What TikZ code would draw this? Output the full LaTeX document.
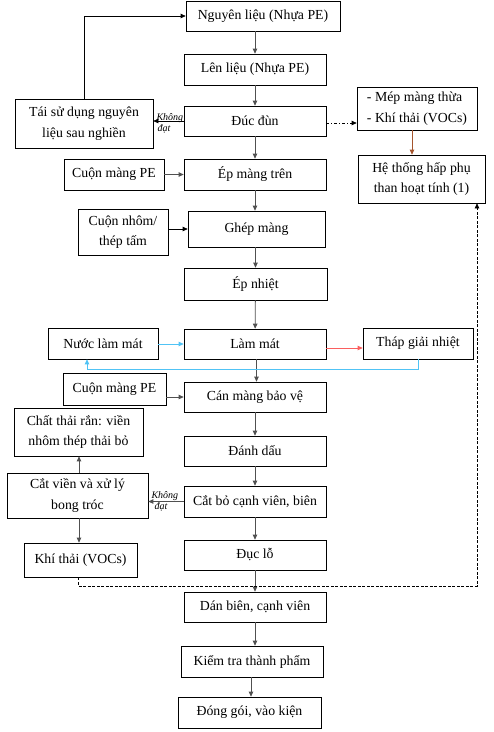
\documentclass[tikz,border=0pt]{standalone}
\usepackage{fontspec}
\setmainfont{Liberation Serif}
\usetikzlibrary{arrows.meta}
\definecolor{arrgray}{RGB}{80,80,80}
\definecolor{coolblue}{RGB}{80,195,245}
\definecolor{hotred}{RGB}{250,95,95}
\definecolor{brownline}{RGB}{165,85,45}
\tikzset{
  box/.style={draw, line width=0.7pt, align=center, inner sep=1pt,
    font=\fontsize{13.8}{20.5}\selectfont},
  arr/.style={-{Triangle[length=5pt,width=4.5pt]}, arrgray, line width=0.8pt},
  blk/.style={-{Triangle[length=5pt,width=4.5pt]}, black, line width=0.7pt},
  retarr/.style={-{Triangle[length=5pt,width=4.5pt]}, black, line width=0.7pt,
    dash pattern=on 3pt off 1.5pt},
  lbl/.style={font=\fontsize{10}{11}\selectfont\itshape, inner sep=1pt},
}

\begin{document}
\begin{tikzpicture}[x=1pt, y=-1pt]
    \useasboundingbox (0,0) rectangle (494,732);

    \node[box, minimum width=154pt, minimum height=30pt] (nguyen) at (263,16) {Nguyên liệu (Nhựa PE)};
    \node[box, minimum width=142pt, minimum height=31pt] (lenlieu) at (255,69.5) {Lên liệu (Nhựa PE)};
    \node[box, minimum width=142pt, minimum height=30pt] (ducdun) at (255,121) {Đúc đùn};
    \node[box, minimum width=138pt, minimum height=49pt] (taisudung) at (84,123.5) {Tái sử dụng nguyên\\liệu sau nghiền};
    \node[box, align=left, minimum width=120pt, minimum height=43pt] (mep) at (417,108.5) {- Mép màng thừa\\- Khí thải (VOCs)};
    \node[box, minimum width=127pt, minimum height=48pt] (hethong) at (421.5,179) {Hệ thống hấp phụ\\than hoạt tính (1)};

    \node[box, minimum width=100pt, minimum height=31pt] (cuonpe) at (114,174.5) {Cuộn màng PE};
    \node[box, minimum width=142pt, minimum height=31pt] (epmang) at (255,174.5) {Ép màng trên};
    \node[box, minimum width=90pt, minimum height=46pt] (cuonnhom) at (123,232) {Cuộn nhôm/\\thép tấm};
    \node[box, minimum width=137pt, minimum height=36pt] (ghep) at (256.5,229) {Ghép màng};
    \node[box, minimum width=143pt, minimum height=32pt] (epnhiet) at (255.5,284) {Ép nhiệt};

    \node[box, minimum width=110pt, minimum height=31pt] (nuoc) at (103,343.5) {Nước làm mát};
    \node[box, minimum width=142pt, minimum height=30pt] (lammat) at (255,344) {Làm mát};
    \node[box, minimum width=110pt, minimum height=31pt] (thap) at (418,343.5) {Tháp giải nhiệt};

    \node[box, minimum width=103pt, minimum height=32pt] (cuonpeb) at (114.5,389) {Cuộn màng PE};
    \node[box, minimum width=142pt, minimum height=30pt] (canmang) at (255,397) {Cán màng bảo vệ};
    \node[box, minimum width=129pt, minimum height=48pt] (chatthai) at (78.5,432) {Chất thải rắn: viền\\nhôm thép thải bỏ};
    \node[box, minimum width=142pt, minimum height=30pt] (danhdau) at (255,451) {Đánh dấu};
    \node[box, minimum width=141pt, minimum height=45pt] (catvien) at (77.5,495.5) {Cắt viền và xử lý\\bong tróc};
    \node[box, minimum width=142pt, minimum height=31pt] (catbo) at (255,501.5) {Cắt bỏ cạnh viên, biên};
    \node[box, minimum width=113pt, minimum height=34pt] (khithai) at (80.5,560) {Khí thải (VOCs)};
    \node[box, minimum width=142pt, minimum height=30pt] (duclo) at (255,555) {Đục lỗ};

    \node[box, minimum width=142pt, minimum height=30pt] (danbien) at (255,607) {Dán biên, cạnh viên};
    \node[box, minimum width=142pt, minimum height=31pt] (kiemtra) at (252,661.5) {Kiểm tra thành phẩm};
    \node[box, minimum width=143pt, minimum height=31pt] (donggoi) at (249.5,712.5) {Đóng gói, vào kiện};

    \draw[arr] (lenlieu.north |- nguyen.south) -- (lenlieu.north);
    \draw[arr] (lenlieu) -- (ducdun);
    \draw[arr] (ducdun) -- (epmang);
    \draw[arr] (epmang) -- (epmang.south |- ghep.north);
    \draw[arr] (epnhiet.north |- ghep.south) -- (epnhiet.north);
    \draw[arr] (epnhiet) -- (lammat);
    \draw[arr] (lammat.south) ++(1.5,0) -- ([xshift=1.5pt]canmang.north);
    \draw[arr] (canmang) -- (danhdau);
    \draw[arr] (danhdau) -- (catbo);
    \draw[arr] (catbo) -- (duclo);
    \draw[arr] (duclo) -- (danbien);
    \draw[arr] (danbien.south) -- (danbien.south |- kiemtra.north);
    \draw[arr] ([xshift=-1pt]kiemtra.south) -- ([xshift=-1pt]kiemtra.south |- donggoi.north);

    \draw[blk] (taisudung.north) |- (nguyen.west);
    \draw[blk] (ducdun.west) -- (ducdun.west -| taisudung.east);
    \node[lbl, anchor=south west] (kd1) at ([xshift=2pt]taisudung.east) {Không};
    \node[lbl, anchor=north west] (kd2) at ([xshift=3pt]taisudung.east) {đạt};
    \draw[blk, dash pattern=on 3pt off 2pt on 1pt off 2pt] ([yshift=-2pt]ducdun.east) -- ([yshift=-2pt]ducdun.east -| mep.west);
    \draw[-{Triangle[length=5pt,width=4.5pt]}, brownline, line width=0.8pt] ([xshift=-5pt]mep.south) -- ([xshift=-5pt]mep.south |- hethong.north);

    \draw[arr] (cuonpe) -- (epmang);
    \draw[blk] (cuonnhom.east |- ghep) -- (ghep.west);
    \draw[-{Triangle[length=5pt,width=4.5pt]}, coolblue, line width=0.9pt] (nuoc.east |- lammat) -- (lammat.west);
    \draw[-{Triangle[length=5pt,width=4.5pt]}, hotred, line width=0.9pt] ([yshift=-4pt]lammat.east) -- ([yshift=-4pt]lammat.east -| thap.west);
    \draw[-{Triangle[length=5pt,width=4.5pt]}, coolblue, line width=0.8pt] (thap.south) -- ++(0,10) -| ([xshift=-16pt]nuoc.south);

    \draw[arr] (cuonpeb.east |- canmang) -- (canmang.west);
    \draw[arr] (catbo.west) -- (catbo.west -| catvien.east);
    \node[lbl, anchor=south west] (kd3) at ([xshift=2pt]catvien.east |- catbo.west) {Không};
    \node[lbl, anchor=north west] (kd4) at ([xshift=5pt]catvien.east |- catbo.west) {đạt};
    \draw[arr] ([xshift=1.5pt]catvien.north) -- ([xshift=1.5pt]catvien.north |- chatthai.south);
    \draw[arr] ([xshift=1.5pt]catvien.south) -- ([xshift=1.5pt]catvien.south |- khithai.north);

    \coordinate (ret) at (477,586);
    \draw[retarr] ([xshift=-2pt]khithai.south) |- (ret) -- ([xshift=55.5pt]hethong.south);
\end{tikzpicture}
\end{document}
